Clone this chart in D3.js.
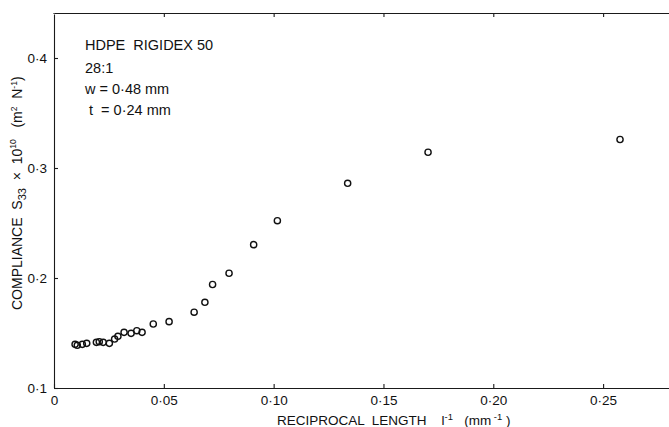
<!DOCTYPE html>
<html>
<head>
<meta charset="utf-8">
<script src="https://cdn.jsdelivr.net/npm/d3@7"></script>
<style>
  body { margin: 0; background: #fff; }
  svg { display: block; font-family: "Liberation Sans", Arial, sans-serif; fill: #111; }
</style>
</head>
<body>
<div class="container"></div>
<script>
// reciprocal length l^-1 (mm^-1)
var recipLength = [0.0096, 0.0106, 0.0129, 0.0149, 0.0193, 0.0206, 0.0224, 0.0252, 0.0276, 0.0291,
	0.0319, 0.0351, 0.0377, 0.0401, 0.0452, 0.0524, 0.0638, 0.0687, 0.0722, 0.0797,
	0.0909, 0.1017, 0.1337, 0.1703, 0.2577];
// compliance S33 x 10^10 (m^2 N^-1)
var compliance = [0.1397, 0.1388, 0.1397, 0.1406, 0.1415, 0.1421, 0.1415, 0.1406, 0.1445, 0.1470,
	0.1506, 0.1497, 0.1521, 0.1506, 0.1582, 0.1603, 0.1689, 0.1779, 0.1941, 0.2043,
	0.2303, 0.2521, 0.2861, 0.3143, 0.3259];
var xTicks = [0, 0.05, 0.10, 0.15, 0.20, 0.25];
var xTickLabels = ['0', '0·05', '0·10', '0·15', '0·20', '0·25'];
var yTicks = [0.1, 0.2, 0.3, 0.4];
var yTickLabels = ['0·1', '0·2', '0·3', '0·4'];
var notes = ['HDPE  RIGIDEX 50', '28:1', 'w = 0·48 mm', ' t  = 0·24 mm'];

const WIDTH = 669;
const HEIGHT = 427;

var x = d3.scaleLinear().domain([0, 0.28]).range([54, 669]);
var y = d3.scaleLinear().domain([0.1, 0.44]).range([388, 14]);

var svg = d3.select('.container').append('svg')
	.attr('width', WIDTH)
	.attr('height', HEIGHT);

var styleAxis = function(g) {
	g.selectAll('path, line').attr('stroke', '#1a1a1a').attr('stroke-width', 1.1);
	g.selectAll('text').attr('fill', '#111').style('font-size', '13.5px')
		.style('font-family', '"Liberation Sans", Arial, sans-serif');
}

// bottom axis
svg.append('g')
	.attr('transform', 'translate(0,388)')
	.call(d3.axisBottom(x).tickValues(xTicks)
		.tickFormat(function(d, i) { return xTickLabels[i]; })
		.tickSizeInner(-4).tickSizeOuter(0).tickPadding(7))
	.call(styleAxis);

// top axis (no labels)
svg.append('g')
	.attr('transform', 'translate(0,13)')
	.call(d3.axisTop(x).tickValues(xTicks.slice(1))
		.tickFormat('').tickSizeInner(-4).tickSizeOuter(0))
	.call(styleAxis);

// left axis
svg.append('g')
	.attr('transform', 'translate(54,0)')
	.call(d3.axisLeft(y).tickValues(yTicks)
		.tickFormat(function(d, i) { return yTickLabels[i]; })
		.tickSizeInner(-4).tickSizeOuter(0).tickPadding(7))
	.call(styleAxis);

svg.append('line')
	.attr('x1', 54).attr('x2', 54).attr('y1', 13).attr('y2', 14)
	.attr('stroke', '#1a1a1a').attr('stroke-width', 1.1);

// data points
svg.append('g').selectAll('circle')
	.data(recipLength)
	.enter().append('circle')
	.attr('cx', function(d) { return x(d); })
	.attr('cy', function(d, i) { return y(compliance[i]); })
	.attr('r', 3.1)
	.attr('fill', 'none')
	.attr('stroke', '#111')
	.attr('stroke-width', 1.4);

// annotation
svg.append('g').selectAll('text')
	.data(notes)
	.enter().append('text')
	.attr('x', 85)
	.attr('y', function(d, i) { return 50 + i * 21 + (i > 0 ? 2 : 0); })
	.style('font-size', '14.5px')
	.style('white-space', 'pre')
	.text(function(d) { return d; });

// x label
var xl = svg.append('text')
	.attr('x', 277).attr('y', 425)
	.style('font-size', '13.5px')
	.style('white-space', 'pre');
xl.append('tspan').text('RECIPROCAL  LENGTH    l');
xl.append('tspan').attr('dy', -5).style('font-size', '9.5px').text('-1');
xl.append('tspan').attr('dy', 5).text('   (mm');
xl.append('tspan').attr('dy', -5).style('font-size', '9.5px').text(' -1');
xl.append('tspan').attr('dy', 5).text(' )');

// y label
var yl = svg.append('text')
	.attr('transform', 'translate(22,310) rotate(-90)')
	.attr('x', 0).attr('y', 0)
	.style('font-size', '14px')
	.style('white-space', 'pre');
yl.append('tspan').text('COMPLIANCE  S');
yl.append('tspan').attr('dy', 4).style('font-size', '11px').text('33');
yl.append('tspan').attr('dy', -4).text('  ×  10');
yl.append('tspan').attr('dy', -6).style('font-size', '8.5px').text('10');
yl.append('tspan').attr('dy', 6).text('   (m');
yl.append('tspan').attr('dy', -5).style('font-size', '8.5px').text('2');
yl.append('tspan').attr('dy', 5).text('  N');
yl.append('tspan').attr('dy', -5).style('font-size', '8.5px').text('-1');
yl.append('tspan').attr('dy', 5).text(')');
</script>
</body>
</html>
